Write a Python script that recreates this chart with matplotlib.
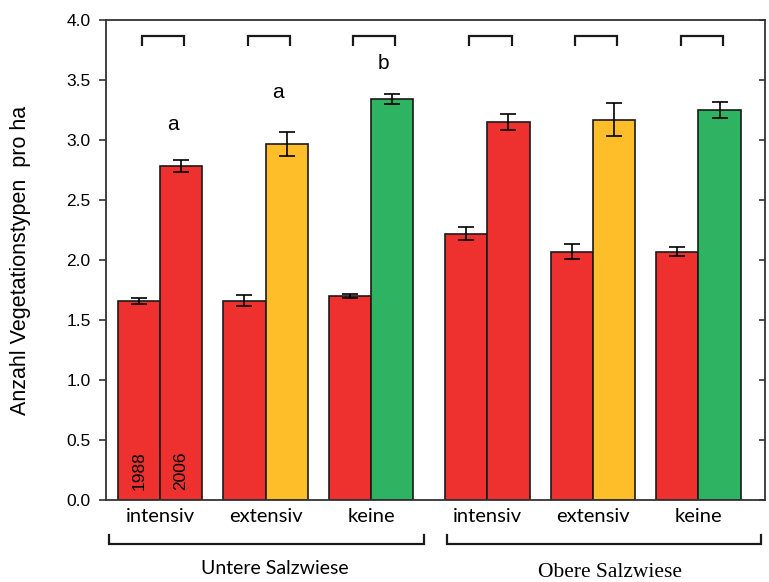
import matplotlib
matplotlib.use("Agg")
import matplotlib.pyplot as plt
import numpy as np

# Data: number of vegetation types per ha, 1988 vs 2006
sections = ["Untere Salzwiese", "Obere Salzwiese"]
categories = ["intensiv", "extensiv", "keine", "intensiv", "extensiv", "keine"]
section_of = [0, 0, 0, 1, 1, 1]
values_1988 = [1.66, 1.66, 1.70, 2.22, 2.07, 2.07]
err_1988 = [0.025, 0.045, 0.02, 0.055, 0.065, 0.035]
values_2006 = [2.78, 2.97, 3.34, 3.15, 3.17, 3.25]
err_2006 = [0.05, 0.10, 0.04, 0.07, 0.14, 0.065]
letters = ["a", "a", "b", "", "", ""]
letter_heights = [3.13, 3.40, 3.64, None, None, None]
year_labels = ["1988", "2006"]

red = "#EE302E"
colors_2006 = ["#EE302E", "#FDBE2A", "#2DB362", "#EE302E", "#FDBE2A", "#2DB362"]

fig = plt.figure(figsize=(7.69, 5.82), dpi=100)
ax = fig.add_axes([0.1378, 0.1409, 0.8570, 0.8247])

gap = 0.1
x = np.arange(len(categories)) + gap * np.array(section_of)
w = 0.40

ax.bar(x - w / 2, values_1988, width=w, color=red, edgecolor="#1a1a1a",
       linewidth=1.2, zorder=2)
ax.bar(x + w / 2, values_2006, width=w, color=colors_2006, edgecolor="#1a1a1a",
       linewidth=1.2, zorder=2)
ax.errorbar(x - w / 2, values_1988, yerr=err_1988, fmt="none", ecolor="black",
            elinewidth=1.2, capsize=6, capthick=1.2, zorder=3)
ax.errorbar(x + w / 2, values_2006, yerr=err_2006, fmt="none", ecolor="black",
            elinewidth=1.2, capsize=6, capthick=1.2, zorder=3)

# comparison brackets above each pair
for xi in x:
    xl, xr = xi - w / 2 + 0.03, xi + w / 2 + 0.03
    ax.plot([xl, xl, xr, xr], [3.78, 3.87, 3.87, 3.78], color="#1a1a1a",
            lw=1.6, solid_capstyle="butt", solid_joinstyle="miter", zorder=3)

# significance letters
for xi, lt, hy in zip(x, letters, letter_heights):
    if lt:
        ax.text(xi + w / 2 - 0.08, hy, lt, ha="center", va="center",
                fontsize=15, family="Liberation Sans")

# year labels inside the first pair
for dx, yl in zip([-w / 2, w / 2], year_labels):
    ax.text(x[0] + dx, 0.08, yl, rotation=90, ha="center", va="bottom",
            fontsize=12.5, family="Liberation Sans")

ax.set_xlim(-0.511, 5.73)
ax.set_ylim(0, 4.0)
ax.set_yticks(np.arange(0, 4.01, 0.5))
ax.set_yticklabels([f"{v:.1f}" for v in np.arange(0, 4.01, 0.5)],
                   family="Liberation Sans", fontsize=12.5)
ax.tick_params(axis="y", direction="out", length=5, width=1.2, color="#333333",
               right=False, pad=6)
ax.set_xticks(x)
ax.set_xticklabels(categories, family="Lato", fontsize=14.5)
ax.tick_params(axis="x", length=0, pad=6)

# right-side inward ticks
ax2 = ax.secondary_yaxis("right")
ax2.set_yticks(np.arange(0, 4.01, 0.5))
ax2.set_yticklabels([])
ax2.tick_params(direction="in", length=4, width=1.2, color="#333333")
ax2.spines["right"].set_visible(False)

for s in ax.spines.values():
    s.set_color("#333333")
    s.set_linewidth(1.3)

ax.set_ylabel("Anzahl Vegetationstypen  pro ha", family="Liberation Sans",
              fontsize=15.5)
ax.yaxis.set_label_coords(-0.114, 0.5)

# section brackets below the category labels
def px_to_data(px):
    x0, x1 = ax.get_xlim()
    return x0 + (px - 106) / (765 - 106) * (x1 - x0)

trans = ax.get_xaxis_transform()
bracket_specs = [(109, 424, "Lato", "Untere Salzwiese", 275, -0.143, 14),
                 (447, 761, "Liberation Serif", "Obere Salzwiese", 610, -0.152, 15.5)]
for (p0, p1, fam, label, pc, ty, fs) in bracket_specs:
    x0, x1 = px_to_data(p0), px_to_data(p1)
    ax.plot([x0, x0, x1, x1], [-0.072, -0.092, -0.092, -0.072], color="#1a1a1a",
            lw=1.6, transform=trans, clip_on=False, solid_joinstyle="miter")
    ax.text(px_to_data(pc), ty, label, transform=trans, ha="center", va="center",
            family=fam, fontsize=fs)

fig.savefig("out.png", dpi=100)
